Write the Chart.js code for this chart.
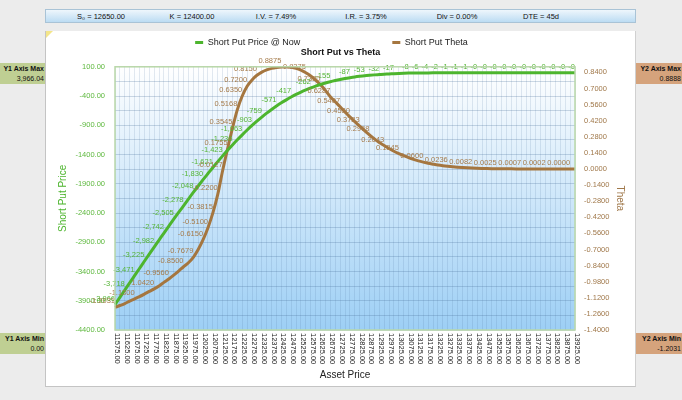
<!DOCTYPE html>
<html>
<head>
<meta charset="utf-8">
<script src="https://cdn.jsdelivr.net/npm/chart.js@4.4.1/dist/chart.umd.min.js"></script>
<style>
html, body { margin: 0; padding: 0; }
body { width: 682px; height: 400px; background: #ececec; position: relative; overflow: hidden; font-family: "Liberation Sans", Arial, sans-serif; }
#barra { position: absolute; left: 45px; top: 9px; width: 589px; height: 12px; border: 1px solid #a9c3d6; background: linear-gradient(#eef6fc, #bcdcf3); font-size: 7.5px; color: #111; }
#barra span { position: absolute; top: 2px; transform: translateX(-50%); white-space: nowrap; }
#panel { position: absolute; left: 45px; top: 31px; width: 589px; height: 355px; background: #fff; border-left: 1px solid #c4c4c4; border-right: 1px solid #d0d0d0; border-bottom: 1px solid #c4c4c4; }
#panel canvas { position: absolute; left: 0; top: 0; }
#esquina { position: absolute; left: 0; top: 0; width: 0; height: 0; border-top: 7px solid #f3e58a; border-right: 7px solid transparent; }
.caja { position: absolute; width: 45px; height: 21px; box-sizing: border-box; padding: 1px 1px 0 0; font-size: 7px; line-height: 9.5px; text-align: right; color: #111; white-space: nowrap; overflow: hidden; }
.caja b { display: block; }
.y1 { left: 0; background: #bfcf93; }
.y2 { left: 636px; width: 46px; background: #d5a37c; }
</style>
</head>
<body>
<div id="barra">
  <span style="left:55px">S₀ = 12650.00</span>
  <span style="left:146px">K = 12400.00</span>
  <span style="left:230px">I.V. = 7.49%</span>
  <span style="left:320px">I.R. = 3.75%</span>
  <span style="left:411px">Div = 0.00%</span>
  <span style="left:495px">DTE = 45d</span>
</div>
<div class="caja y1" style="top:63px"><b>Y1 Axis Max</b>3,966.04</div>
<div class="caja y1" style="top:333px"><b>Y1 Axis Min</b>0.00</div>
<div class="caja y2" style="top:63px"><b>Y2 Axis Max</b>0.8888</div>
<div class="caja y2" style="top:333px"><b>Y2 Axis Min</b>-1.2031</div>
<div id="panel">
  <canvas id="grafico" width="589" height="355"></canvas>
  <div id="esquina"></div>
</div>
<script>
// precios del subyacente cada 25 puntos
const precios = Array.from({ length: 95 }, (_, i) => 11575 + 25 * i);

const precioPut = [
    -3966.04, -3842, -3718, -3594, -3471, -3348, -3225, -3103, -2982, -2862,
    -2742, -2623, -2505, -2390, -2278, -2162, -2048, -1938, -1830, -1725,
    -1621, -1521, -1423, -1328, -1236, -1148, -1063, -981, -903, -829,
    -759, -693, -630, -571, -516, -465, -417, -373, -333, -296,
    -262, -231, -203, -178, -155, -135, -117, -101, -87, -74,
    -63, -53, -45, -38, -32, -26, -22, -17, -13, -10,
    -8, -7, -6, -5, -4, -3, -2, -2, -1.4, -1.2,
    -1.0, -0.8, -0.6, -0.45, -0.35, -0.28, -0.22, -0.17, -0.13, -0.1,
    -0.08, -0.06, -0.05, -0.04, -0.03, -0.02, -0.02, -0.01, -0.01, -0.01,
    -0.01, -0.005, -0.005, -0.005, -0.005
];

const thetaPut = [
    -1.2031, -1.1870, -1.1700, -1.1484, -1.1300, -1.1100, -1.0880, -1.0645, -1.0420, -1.0170,
    -0.9860, -0.9560, -0.9230, -0.8876, -0.8500, -0.8150, -0.7679, -0.7002, -0.6150, -0.5100,
    -0.3815, -0.2200, -0.0127, 0.1755, 0.3545, 0.5168, 0.6350, 0.7200, 0.7750, 0.8150,
    0.8430, 0.8620, 0.8750, 0.8830, 0.8875, 0.8888, 0.8856, 0.8760, 0.8600, 0.8375,
    0.8088, 0.7736, 0.7320, 0.6841, 0.6287, 0.5850, 0.5407, 0.4965, 0.4530, 0.4120,
    0.3723, 0.3340, 0.2968, 0.2620, 0.2300, 0.2043, 0.1780, 0.1545, 0.1345, 0.1160,
    0.0990, 0.0840, 0.0710, 0.0600, 0.0500, 0.0420, 0.0345, 0.0285, 0.0236, 0.0193,
    0.0157, 0.0127, 0.0102, 0.0082, 0.0065, 0.0052, 0.0041, 0.0032, 0.0025, 0.0019,
    0.0015, 0.0012, 0.0009, 0.0007, 0.0005, 0.0004, 0.0003, 0.0003, 0.0002, 0.0002,
    0.0001, 0.0001, 0.0001, 0.0000, 0.0000
];

const ticksPrecio = [100, -400, -900, -1400, -1900, -2400, -2900, -3400, -3900, -4400];
const ticksTheta = [0.84, 0.70, 0.56, 0.42, 0.28, 0.14, 0, -0.14, -0.28, -0.42, -0.56, -0.70, -0.84, -0.98, -1.12, -1.26, -1.40];

const verde = '#4db52e';
const marron = '#a5763f';
const fuente = '"Liberation Sans", Arial, sans-serif';

function formatoPrecio(v) {
    const r = Math.round(Math.abs(v));
    return (v < 0 ? '-' : '') + r.toLocaleString('en-US');
}
function formatoTheta(v) {
    return v.toFixed(4);
}

// fondo degradado del area del grafico
const fondoAzul = {
    id: 'fondoAzul',
    beforeDraw(chart) {
        const { ctx, chartArea: { left, top, right, bottom } } = chart;
        const g = ctx.createLinearGradient(0, top, 0, bottom);
        g.addColorStop(0, '#ffffff');
        g.addColorStop(1, '#9dcff5');
        ctx.save();
        ctx.fillStyle = g;
        ctx.fillRect(left, top, right - left, bottom - top);
        ctx.restore();
    },
    afterDraw(chart) {
        const { ctx, chartArea: { left, top, right, bottom } } = chart;
        ctx.save();
        ctx.strokeStyle = '#b9d8a9';
        ctx.lineWidth = 1.5;
        ctx.strokeRect(left, top, right - left, bottom - top);
        ctx.restore();
    }
};

// etiquetas del eje X giradas
const etiquetasEjeX = {
    id: 'etiquetasEjeX',
    afterDraw(chart) {
        const { ctx, chartArea: { bottom }, scales: { x } } = chart;
        ctx.save();
        ctx.font = '7.5px ' + fuente;
        ctx.fillStyle = '#222';
        ctx.textAlign = 'left';
        ctx.textBaseline = 'middle';
        precios.forEach((p, i) => {
            if (i % 2) return;
            ctx.save();
            ctx.translate(x.getPixelForValue(i) + 2, bottom + 3);
            ctx.rotate(Math.PI / 2);
            ctx.fillText(p.toFixed(2), 0, 0);
            ctx.restore();
        });
        ctx.restore();
    }
};

// valores sobre cada punto, saltando los que se pisan
const etiquetasDatos = {
    id: 'etiquetasDatos',
    afterDatasetsDraw(chart) {
        const { ctx } = chart;
        const alto = 8;
        ctx.save();
        ctx.font = '7.5px ' + fuente;
        ctx.textAlign = 'right';
        ctx.textBaseline = 'middle';
        chart.data.datasets.forEach((ds, d) => {
            const puestas = [];
            chart.getDatasetMeta(d).data.forEach((pt, j) => {
                const texto = ds.formato(ds.data[j]);
                const ancho = ctx.measureText(texto).width;
                const c = { x1: pt.x - ancho, x2: pt.x, y1: pt.y - 6 - alto / 2, y2: pt.y - 6 + alto / 2 };
                if (puestas.some(o => c.x1 < o.x2 && c.x2 > o.x1 && c.y1 < o.y2 && c.y2 > o.y1)) return;
                puestas.push(c);
                ctx.fillStyle = ds.colorEtiqueta;
                ctx.fillText(texto, pt.x, pt.y - 6);
            });
        });
        ctx.restore();
    }
};

new Chart(document.getElementById('grafico').getContext('2d'), {
    type: 'line',
    plugins: [fondoAzul, etiquetasEjeX, etiquetasDatos],
    data: {
        labels: precios.map(p => p.toFixed(2)),
        datasets: [{
            label: 'Short Put Price @ Now',
            data: precioPut,
            yAxisID: 'y',
            borderColor: verde,
            backgroundColor: verde,
            borderWidth: 3,
            pointRadius: 0,
            cubicInterpolationMode: 'monotone',
            colorEtiqueta: '#55b536',
            formato: formatoPrecio
        }, {
            label: 'Short Put Theta',
            data: thetaPut,
            yAxisID: 'y2',
            borderColor: marron,
            backgroundColor: marron,
            borderWidth: 3,
            pointRadius: 0,
            cubicInterpolationMode: 'monotone',
            colorEtiqueta: '#a57b4b',
            formato: formatoTheta
        }]
    },
    options: {
        responsive: false,
        animation: false,
        layout: { padding: { top: 5, left: 0, right: 0, bottom: 0 } },
        plugins: {
            legend: {
                weight: 3000,
                labels: {
                    boxWidth: 8,
                    boxHeight: 3,
                    padding: 2,
                    color: '#222',
                    font: { size: 9, family: fuente },
                    generateLabels(chart) {
                        const items = Chart.defaults.plugins.legend.labels.generateLabels(chart);
                        items.forEach((it, i) => {
                            it.lineWidth = 0;
                            it.text += '\u2003'.repeat(i === 0 ? 10 : 2);
                        });
                        return items;
                    }
                }
            },
            title: {
                display: true,
                text: 'Short Put vs Theta',
                color: '#111',
                font: { size: 9, weight: 'bold', family: fuente },
                padding: { top: -10, bottom: 9 }
            },
            tooltip: { enabled: false }
        },
        scales: {
            x: {
                ticks: { display: false },
                grid: { color: 'rgba(80,120,160,0.16)', drawTicks: false },
                border: { display: false },
                title: {
                    display: true,
                    text: 'Asset Price',
                    color: '#222',
                    font: { size: 10, family: fuente },
                    padding: { bottom: 5 }
                },
                afterFit(scale) { scale.height = 56; }
            },
            y: {
                position: 'left',
                min: -4400,
                max: 100,
                ticks: {
                    stepSize: 250,
                    color: '#5db83d',
                    padding: 10,
                    font: { size: 7.5, family: fuente },
                    callback: v => ticksPrecio.includes(v) ? v.toFixed(2) : ''
                },
                grid: { color: 'rgba(70,110,150,0.26)', drawTicks: false },
                border: { display: false },
                title: {
                    display: true,
                    text: 'Short Put Price',
                    color: '#4db52e',
                    font: { size: 10, family: fuente },
                    padding: { top: 11 }
                },
                afterFit(scale) { scale.width = 69; }
            },
            y2: {
                position: 'right',
                min: -1.4,
                max: Math.max(...thetaPut),
                afterBuildTicks(scale) {
                    scale.ticks = ticksTheta.map(v => ({ value: v }));
                },
                ticks: {
                    color: '#a0784a',
                    padding: 1,
                    font: { size: 7.5, family: fuente },
                    callback: v => v.toFixed(4)
                },
                grid: { display: false },
                border: { display: false },
                title: {
                    display: true,
                    text: 'Theta',
                    color: '#a0784a',
                    font: { size: 10, family: fuente },
                    padding: { top: 9 }
                },
                afterFit(scale) { scale.width = 60; }
            }
        }
    }
});
</script>
</body>
</html>
